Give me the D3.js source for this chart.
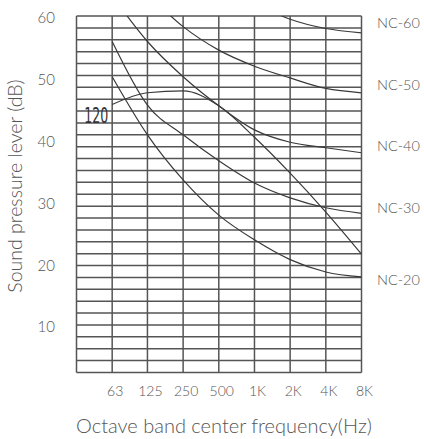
<!DOCTYPE html>
<html>
<head>
<meta charset="utf-8">
<script src="https://cdn.jsdelivr.net/npm/d3@7"></script>
<style>
  body { margin: 0; background: #fff; }
  text { font-family: Lato, "Open Sans", sans-serif; font-weight: 300; fill: #555; }
</style>
</head>
<body>
<div id="chart"></div>
<script>
// octave bands (31.5 Hz is the unlabelled left edge)
const freqs = [31.5, 63, 125, 250, 500, 1000, 2000, 4000, 8000];
const tickFreqs = [63, 125, 250, 500, 1000, 2000, 4000, 8000];
const tickNames = ["63", "125", "250", "500", "1K", "2K", "4K", "8K"];
const dbTicks = [10, 20, 30, 40, 50, 60];

// curve values in dB (values above 60 leave the frame)
const nc60 = [[1000, 62.4], [2000, 59.8], [4000, 58.3], [8000, 57.6]];
const nc50 = [[125, 63.9], [250, 58.6], [500, 54.8], [1000, 52.2], [2000, 50.3], [4000, 48.6], [8000, 47.9]];
const nc40 = [[63, 63.6], [125, 56.2], [250, 50.5], [500, 45.8], [1000, 41.9], [2000, 39.9], [4000, 39.0], [8000, 38.2]];
const nc30 = [[63, 56.2], [125, 45.9], [250, 41.1], [500, 36.9], [1000, 33.3], [2000, 30.9], [4000, 29.3], [8000, 28.4]];
const nc20 = [[63, 50.5], [125, 41.1], [250, 33.8], [500, 28.1], [1000, 24.1], [2000, 20.9], [4000, 18.9], [8000, 18.1]];
const curve120 = [[63, 46.0], [125, 47.9], [250, 48.2], [500, 45.8], [1000, 40.7], [2000, 34.9], [4000, 28.6], [8000, 21.8]];

const ncNames = ["NC-60", "NC-50", "NC-40", "NC-30", "NC-20"];
const ncLabelDb = [59.2, 49.2, 39.4, 29.3, 17.6];

const W = 424, H = 439;
const plot = { left: 76.5, right: 361.5, top: 16, bottom: 372.5 };
const gridRows = 30;

const svg = d3.select("#chart")
    .append("svg")
    .attr("width", W)
    .attr("height", H);

const x = d3.scaleLog().base(2)
    .domain([31.5, 8000])
    .range([plot.left, plot.right]);

// the dB labels do not sit on the grid lines in the original
const y = d3.scaleLinear()
    .domain([10, 60])
    .range([327, 18]);

const gy = d3.scaleLinear()
    .domain([0, gridRows])
    .range([plot.bottom, plot.top]);

// grid
const grid = svg.append("g").attr("stroke", "#555").attr("stroke-width", 1.5);
grid.selectAll(".h")
    .data(d3.range(gridRows + 1))
    .join("line")
    .attr("x1", plot.left).attr("x2", plot.right)
    .attr("y1", d => gy(d)).attr("y2", d => gy(d));
grid.selectAll(".v")
    .data(freqs)
    .join("line")
    .attr("x1", d => x(d)).attr("x2", d => x(d))
    .attr("y1", plot.top).attr("y2", plot.bottom);

svg.append("clipPath").attr("id", "clip")
    .append("rect")
    .attr("x", plot.left).attr("y", plot.top)
    .attr("width", plot.right - plot.left).attr("height", plot.bottom - plot.top);

const line = d3.line()
    .x(d => x(d[0]))
    .y(d => y(d[1]))
    .curve(d3.curveMonotoneX);

svg.append("g")
    .attr("clip-path", "url(#clip)")
    .selectAll("path")
    .data([nc60, nc50, nc40, nc30, nc20, curve120])
    .join("path")
    .attr("d", line)
    .attr("fill", "none")
    .attr("stroke", "#3a3a3a")
    .attr("stroke-width", 1.2);

// "120" tag at start of the curve, squeezed like the original lettering
svg.append("text")
    .attr("transform", `translate(${x(63) - 4},${y(curve120[0][1]) + 18}) scale(0.6,1)`)
    .attr("text-anchor", "end")
    .style("font-family", "'DejaVu Sans', sans-serif")
    .style("font-weight", 400)
    .style("font-size", "21px")
    .style("fill", "#333")
    .text("120");

// y tick labels
svg.selectAll(".ytick")
    .data(dbTicks)
    .join("text")
    .attr("x", 55)
    .attr("y", d => y(d))
    .attr("dy", "0.36em")
    .attr("text-anchor", "end")
    .style("font-size", "15px")
    .text(d => d);

// x tick labels
svg.selectAll(".xtick")
    .data(tickFreqs)
    .join("text")
    .attr("x", d => x(d) + 3)
    .attr("y", 396)
    .attr("text-anchor", "middle")
    .style("font-size", "14px")
    .text((d, i) => tickNames[i]);

// NC labels
svg.selectAll(".nc")
    .data(ncNames)
    .join("text")
    .attr("x", 377)
    .attr("y", (d, i) => y(ncLabelDb[i]))
    .attr("dy", "0.36em")
    .style("font-size", "14.5px")
    .text(d => d);

svg.append("text")
    .attr("x", (plot.left + plot.right) / 2 + 5)
    .attr("y", 433)
    .attr("text-anchor", "middle")
    .style("font-size", "20px")
    .text("Octave band center frequency(Hz)");

svg.append("text")
    .attr("transform", "translate(22,186) rotate(-90)")
    .attr("text-anchor", "middle")
    .style("font-size", "19.5px")
    .text("Sound pressure lever (dB)");
</script>
</body>
</html>
